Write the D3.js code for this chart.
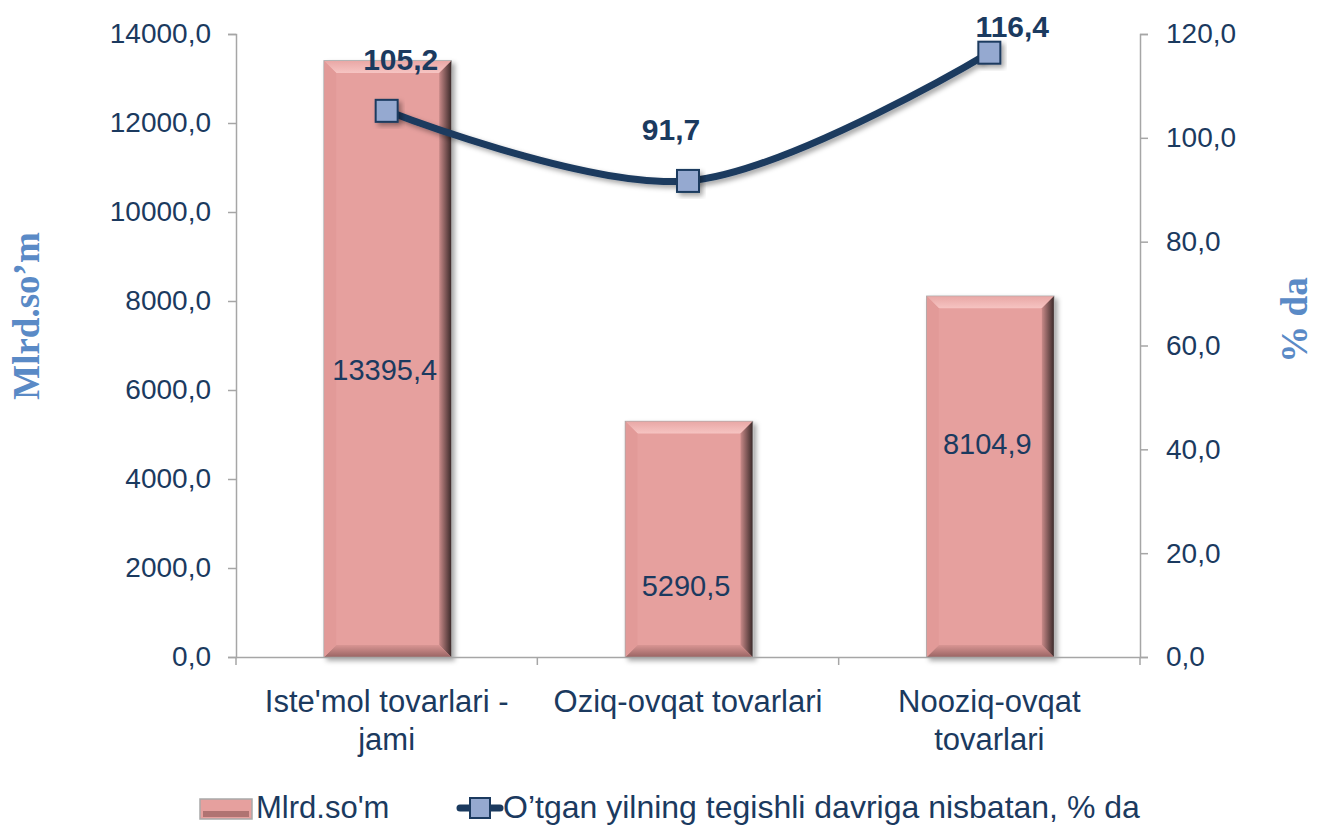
<!DOCTYPE html>
<meta charset="utf-8">
<html>
<head>
<script src="https://d3js.org/d3.v7.min.js"></script>
<style>
  body { margin: 0; background: #fff; }
  svg { font-family: Arial, "Liberation Sans", sans-serif; }
</style>
</head>
<body>
<svg width="1318" height="827"></svg>
<script>

// data
var categories = [["Iste'mol tovarlari -", "jami"], ["Oziq-ovqat tovarlari"], ["Nooziq-ovqat", "tovarlari"]];
var volumes = [13395.4, 5290.5, 8104.9];
var percents = [105.2, 91.7, 116.4];
var leftTicks = [0, 2000, 4000, 6000, 8000, 10000, 12000, 14000];
var rightTicks = [0, 20, 40, 60, 80, 100, 120];
// where Excel put the bar value labels (in left axis units)
var barLabelAt = [6225, 1370, 4560];

var navy = "#1b3a5f";
var svg = d3.select("svg"),
    margin = {top: 34, right: 178, bottom: 170, left: 236},
    width = +svg.attr("width"),
    height = +svg.attr("height");

var fmt = function(v, d) { return v.toFixed(d).replace(".", ","); };

var x = d3.scaleBand()
    .domain(d3.range(categories.length))
    .range([margin.left, width - margin.right]);

var y = d3.scaleLinear().domain([0, 14000]).range([height - margin.bottom, margin.top]);
var y2 = d3.scaleLinear().domain([0, 120]).range([height - margin.bottom, margin.top]);

var defs = svg.append("defs");
var sh = defs.append("filter").attr("id", "shadow").attr("x", "-20%").attr("y", "-20%").attr("width", "150%").attr("height", "150%");
sh.append("feDropShadow").attr("dx", 3).attr("dy", 3).attr("stdDeviation", 2.5).attr("flood-color", "#000").attr("flood-opacity", 0.35);

var gr = defs.append("linearGradient").attr("id", "rightBevel").attr("x1", 0).attr("x2", 1);
gr.append("stop").attr("offset", 0).attr("stop-color", "#c98a89");
gr.append("stop").attr("offset", 1).attr("stop-color", "#3d2b2b");
var gt = defs.append("linearGradient").attr("id", "topBevel").attr("x1", 0).attr("x2", 0).attr("y1", 0).attr("y2", 1);
gt.append("stop").attr("offset", 0).attr("stop-color", "#e9a8a6");
gt.append("stop").attr("offset", 1).attr("stop-color", "#f6c4c2");
var gb = defs.append("linearGradient").attr("id", "botBevel").attr("x1", 0).attr("x2", 0).attr("y1", 0).attr("y2", 1);
gb.append("stop").attr("offset", 0).attr("stop-color", "#d99593");
gb.append("stop").attr("offset", 1).attr("stop-color", "#9a6564");

// bars
var barW = 127, bev = 12;
var bars = svg.append("g").selectAll("g")
  .data(volumes)
  .enter().append("g")
    .attr("transform", function(d, i) {
      return "translate(" + (x(i) + x.bandwidth() / 2 - barW / 2 + 1) + "," + y(d) + ")";
    });

bars.append("rect")
    .attr("width", barW)
    .attr("height", function(d) { return y(0) - y(d); })
    .attr("fill", "#e6a09e")
    .attr("stroke", "#a9a9a9")
    .attr("stroke-width", 1.5)
    .attr("filter", "url(#shadow)");

bars.append("path")
    .attr("fill", "url(#topBevel)")
    .attr("d", "M0,0H" + barW + "L" + (barW - bev) + "," + bev + "H" + bev + "Z");
bars.append("path")
    .attr("fill", "url(#rightBevel)")
    .attr("d", function(d) {
      var h = y(0) - y(d);
      return "M" + barW + ",0V" + h + "L" + (barW - bev) + "," + (h - bev) + "V" + bev + "Z";
    });
bars.append("path")
    .attr("fill", "url(#botBevel)")
    .attr("d", function(d) {
      var h = y(0) - y(d);
      return "M0," + h + "H" + barW + "L" + (barW - bev) + "," + (h - bev) + "H" + bev + "Z";
    });
bars.append("path")
    .attr("fill", "#e29a98")
    .attr("d", function(d) {
      var h = y(0) - y(d);
      return "M0,0V" + h + "L" + bev + "," + (h - bev) + "V" + bev + "Z";
    });

// bar value labels
svg.append("g").selectAll("text")
  .data(volumes)
  .enter().append("text")
    .attr("x", function(d, i) { return x(i) + x.bandwidth() / 2 - 2; })
    .attr("y", function(d, i) { return y(barLabelAt[i]); })
    .attr("text-anchor", "middle")
    .attr("font-size", 29)
    .attr("fill", navy)
    .text(function(d) { return fmt(d, 1); });

// axes
var axisL = svg.append("g")
    .attr("transform", "translate(" + margin.left + ",0)")
    .call(d3.axisLeft(y).tickValues(leftTicks).tickSize(8).tickPadding(17).tickFormat(function(d) { return fmt(d, 1); }));
var axisR = svg.append("g")
    .attr("transform", "translate(" + (width - margin.right) + ",0)")
    .call(d3.axisRight(y2).tickValues(rightTicks).tickSize(8).tickPadding(18).tickFormat(function(d) { return fmt(d, 1); }));
var axisB = svg.append("g")
    .attr("transform", "translate(0," + y(0) + ")")
    .call(d3.axisBottom(x).tickSize(0).tickFormat(""));

[axisL, axisR, axisB].forEach(function(a) {
  a.select(".domain").attr("stroke", "#a6a6a6").attr("stroke-width", 1.5);
  a.selectAll(".tick line").attr("stroke", "#a6a6a6").attr("stroke-width", 1.5);
  a.selectAll(".tick text").attr("font-size", 28).attr("fill", navy).attr("font-family", "Arial, 'Liberation Sans', sans-serif");
});

// category boundary ticks
svg.append("g").selectAll("line")
  .data(d3.range(categories.length + 1))
  .enter().append("line")
    .attr("x1", function(i) { return margin.left + i * x.step(); })
    .attr("x2", function(i) { return margin.left + i * x.step(); })
    .attr("y1", y(0))
    .attr("y2", y(0) + 8)
    .attr("stroke", "#a6a6a6")
    .attr("stroke-width", 1.5);

// category labels
var cat = svg.append("g").selectAll("text")
  .data(categories)
  .enter().append("text")
    .attr("x", function(d, i) { return x(i) + x.bandwidth() / 2; })
    .attr("y", y(0) + 55)
    .attr("text-anchor", "middle")
    .attr("font-size", 31)
    .attr("fill", navy);
cat.selectAll("tspan")
  .data(function(d) { return d; })
  .enter().append("tspan")
    .attr("x", function() { return this.parentNode.getAttribute("x"); })
    .attr("dy", function(d, i) { return i ? 38 : 0; })
    .text(function(d) { return d; });

// axis titles
svg.append("text")
    .attr("transform", "translate(39," + 316 + ") rotate(-90)")
    .attr("text-anchor", "middle")
    .attr("font-family", "'Liberation Serif', 'Times New Roman', serif")
    .attr("font-weight", "bold")
    .attr("font-size", 37)
    .attr("fill", "#5a8ac6")
    .text("Mlrd.so’m");
svg.append("text")
    .attr("transform", "translate(1307," + 320 + ") rotate(-90)")
    .attr("text-anchor", "middle")
    .attr("font-family", "'Liberation Serif', 'Times New Roman', serif")
    .attr("font-weight", "bold")
    .attr("font-size", 37)
    .attr("fill", "#5a8ac6")
    .text("% da");

// line
var cx = function(d, i) { return x(i) + x.bandwidth() / 2; };
var line = d3.line()
    .x(cx)
    .y(function(d) { return y2(d); })
    .curve(d3.curveCatmullRom);

svg.append("path")
    .datum(percents)
    .attr("fill", "none")
    .attr("stroke", navy)
    .attr("stroke-width", 7)
    .attr("filter", "url(#shadow)")
    .attr("d", line);

svg.append("g").selectAll("rect")
  .data(percents)
  .enter().append("rect")
    .attr("x", function(d, i) { return cx(d, i) - 11; })
    .attr("y", function(d) { return y2(d) - 11; })
    .attr("width", 22)
    .attr("height", 22)
    .attr("fill", "#95a9d0")
    .attr("stroke", navy)
    .attr("stroke-width", 2)
    .attr("filter", "url(#shadow)");

var lblOff = [[14, -41], [-17, -41], [23, -16]];
svg.append("g").selectAll("text")
  .data(percents)
  .enter().append("text")
    .attr("x", function(d, i) { return cx(d, i) + lblOff[i][0]; })
    .attr("y", function(d, i) { return y2(d) + lblOff[i][1]; })
    .attr("text-anchor", "middle")
    .attr("font-size", 30)
    .attr("font-weight", "bold")
    .attr("fill", navy)
    .text(function(d) { return fmt(d, 1); });

// legend
var lg = svg.append("g").attr("transform", "translate(0,808)");
lg.append("rect").attr("x", 200).attr("y", -9).attr("width", 52).attr("height", 20)
    .attr("fill", "#e6a09e").attr("stroke", "#a9a9a9").attr("stroke-width", 1.5);
lg.append("rect").attr("x", 203).attr("y", 3).attr("width", 46).attr("height", 6).attr("fill", "#b07372");
lg.append("text").attr("x", 256).attr("y", 10).attr("font-size", 31).attr("fill", navy).text("Mlrd.so'm");
lg.append("line").attr("x1", 460).attr("x2", 500).attr("y1", 0).attr("y2", 0)
    .attr("stroke", navy).attr("stroke-width", 7).attr("stroke-linecap", "round");
lg.append("rect").attr("x", 470).attr("y", -10).attr("width", 20).attr("height", 20)
    .attr("fill", "#95a9d0").attr("stroke", navy).attr("stroke-width", 2);
lg.append("text").attr("x", 503).attr("y", 10).attr("font-size", 32).attr("fill", navy)
    .text("O’tgan yilning tegishli davriga nisbatan, % da");

</script>
</body>
</html>
